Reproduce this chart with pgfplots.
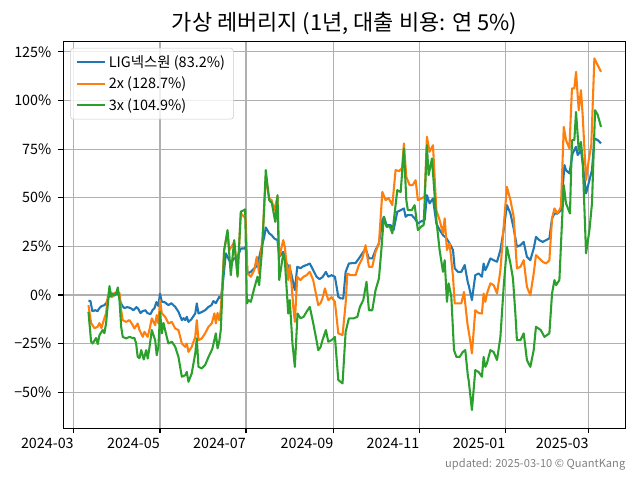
\documentclass[border=0pt]{standalone}
\usepackage{pgfplots}
\pgfplotsset{compat=1.18}
\usepackage{fontspec}
\setmainfont{Noto Sans CJK KR}
\definecolor{C0}{HTML}{1F77B4}
\definecolor{C1}{HTML}{FF7F0E}
\definecolor{C2}{HTML}{2CA02C}
\definecolor{gridc}{HTML}{B0B0B0}
\begin{document}
\begin{tikzpicture}
\useasboundingbox (-45.6pt,-37.2pt) rectangle (415.2pt,308.4pt);
\begin{axis}[
  name=ax,
  at={(0,0)}, anchor=south west,
  scale only axis,
  width=404.8pt, height=278.4pt,
  xmin=-7.5, xmax=391, ymin=-68.5, ymax=130.2,
  xtick={0,61,122,184,245,306,365},
  xticklabels={2024-03,2024-05,2024-07,2024-09,2024-11,2025-01,2025-03},
  ytick={-50,-25,0,25,50,75,100,125},
  yticklabels={−50\%,−25\%,0\%,25\%,50\%,75\%,100\%,125\%},
  /pgf/number format/assume math mode=true,
  xtick pos=bottom, ytick pos=left,
  tick align=outside,
  major tick length=3.5pt,
  tick style={black, line width=0.8pt},
  axis line style={line width=0.8pt},
  grid=major,
  major grid style={gridc, line width=0.8pt},
  ticklabel style={font=\fontsize{10.3}{12}\selectfont, inner sep=0pt},
  xticklabel style={anchor=north east, yshift=-3pt},
  yticklabel style={anchor=east, xshift=-5pt},
  title={가상 레버리지 (1년, 대출 비용: 연 5\%)},
  every axis title/.style={at={(0.5,1)}, anchor=base, yshift=7.9pt, font=\fontsize{15.8}{18}\selectfont, inner sep=0pt},
  legend style={at={(0,1)}, anchor=north west, xshift=5pt, yshift=-4.5pt,
    draw=black!20, fill=white, fill opacity=0.8, text opacity=1,
    rounded corners=2pt, font=\fontsize{10.4}{12}\selectfont,
    row sep=1.5pt, inner xsep=4pt, inner ysep=3pt},
  legend cell align=left,
  legend image code/.code={\draw[#1] (0pt,0pt) -- (20pt,0pt);},
  every axis plot/.append style={line width=1.5pt, line join=round},
]
\addplot[C0] coordinates {(10.3,-2.9)(11.7,-3.1)(13.1,-8.3)(15.2,-7.8)(16.7,-8.3)(18.1,-6.7)(19.5,-5.7)(21.6,-5.2)(23.0,-4.1)(24.5,-1.1)(25.9,0.5)(27.3,-0.6)(28.7,-0.1)(30.1,0.5)(31.6,0.5)(33.0,-3.6)(34.4,-5.7)(35.8,-6.7)(37.9,-6.2)(40.1,-6.7)(42.2,-7.8)(44.3,-6.2)(45.7,-7.2)(47.2,-9.3)(48.6,-8.3)(50.7,-7.8)(52.1,-9.3)(54.3,-9.8)(55.7,-7.8)(57.1,-6.7)(58.5,-3.6)(59.9,-5.7)(61.0,0.7)(62.3,-3.5)(64.2,-3.6)(67.0,-5.2)(69.1,-4.2)(71.8,-6.1)(74.1,-8.6)(76.5,-12.9)(77.7,-11.9)(78.9,-12.9)(80.0,-11.2)(81.2,-13.8)(83.3,-12.4)(86.0,-9.5)(87.1,-4.3)(88.3,-9.5)(90.4,-8.8)(93.0,-7.8)(95.4,-6.1)(97.5,-5.2)(98.9,-3.1)(100.6,-4.2)(103.0,-0.9)(104.1,-1.7)(105.3,4.2)(107.7,21.4)(110.1,17.9)(111.2,16.2)(113.6,18.8)(116.0,19.6)(118.3,23.9)(120.7,23.9)(121.8,24.8)(123.0,11.1)(125.4,11.9)(127.8,13.7)(130.1,15.4)(132.5,23.1)(134.9,29.9)(136.0,34.7)(138.4,31.7)(140.1,30.8)(142.0,29.1)(144.3,28.2)(145.5,19.6)(148.4,22.2)(150.7,16.2)(153.0,13.7)(154.3,10.2)(155.5,6.0)(156.6,2.5)(158.3,14.5)(160.6,13.8)(162.8,14.9)(164.9,15.4)(167.2,16.2)(169.6,12.8)(172.0,9.4)(174.1,8.2)(176.2,9.2)(178.6,11.9)(180.3,9.4)(182.6,10.2)(185.0,9.4)(187.4,-0.9)(189.0,-1.7)(190.9,-1.8)(192.6,11.9)(194.9,16.2)(197.5,16.4)(199.6,16.4)(202.0,18.8)(204.4,21.4)(206.7,23.9)(209.1,18.8)(211.5,18.8)(213.8,23.1)(216.2,26.5)(218.6,38.5)(219.7,40.2)(221.6,35.9)(224.5,35.9)(226.6,33.4)(229.2,42.8)(231.6,43.6)(233.9,44.5)(235.1,40.2)(236.5,41.1)(239.4,41.1)(241.5,39.4)(243.8,36.8)(246.5,38.0)(248.6,38.5)(250.2,51.3)(252.1,47.1)(254.5,49.6)(256.9,36.8)(259.2,33.4)(261.6,30.8)(264.0,29.2)(266.3,26.5)(268.7,23.1)(269.9,13.7)(272.2,11.9)(274.6,11.9)(277.0,15.4)(279.3,6.0)(279.8,5.1)(282.1,-2.6)(284.5,10.2)(286.9,11.1)(289.2,9.4)(290.4,16.2)(291.6,12.8)(292.8,14.5)(295.2,18.8)(297.5,17.9)(299.9,17.1)(302.3,23.1)(304.6,33.4)(306.9,46.2)(309.4,41.9)(311.7,34.2)(314.0,24.8)(316.5,25.6)(318.8,27.3)(321.1,19.6)(323.5,17.9)(325.9,23.9)(327.5,29.9)(329.9,28.2)(332.3,27.3)(334.6,28.2)(337.0,29.1)(338.9,39.4)(340.6,41.9)(342.9,41.9)(345.2,43.6)(347.7,66.8)(348.8,64.2)(351.2,62.5)(353.5,72.8)(355.9,76.2)(357.1,71.9)(359.4,74.5)(360.6,67.8)(363.0,52.2)(365.4,59.0)(367.2,64.2)(368.9,80.5)(371.3,79.6)(373.6,77.9)};
\addlegendentry{LIG넥스원 (83.2\%)}
\addplot[C1] coordinates {(10.3,-5.2)(12.2,-14.4)(14.5,-17.0)(16.7,-16.4)(18.1,-14.4)(19.5,-17.0)(21.6,-11.9)(22.8,-9.3)(24.0,-0.9)(25.2,2.5)(27.5,-0.9)(28.7,1.0)(31.1,1.6)(32.3,1.0)(33.5,-7.8)(34.6,-12.9)(37.0,-13.8)(39.4,-12.9)(41.7,-15.5)(42.9,-17.2)(45.2,-14.6)(46.5,-18.0)(48.8,-21.5)(50.0,-18.9)(52.3,-21.5)(53.5,-18.0)(55.2,-12.0)(57.6,-15.5)(58.7,-10.3)(59.9,-14.6)(61.1,-2.6)(62.3,-9.5)(64.7,-11.2)(67.0,-14.6)(69.4,-13.8)(71.8,-17.2)(74.1,-18.0)(76.5,-24.9)(78.9,-26.6)(80.0,-24.9)(81.2,-29.2)(83.5,-26.6)(86.0,-21.5)(87.1,-12.9)(88.3,-23.2)(90.6,-22.3)(93.0,-19.7)(95.4,-16.3)(97.7,-14.6)(99.6,-9.4)(100.6,-14.6)(101.8,-9.2)(103.0,-12.9)(104.1,-7.8)(106.5,23.1)(108.9,32.5)(110.1,23.1)(112.4,25.6)(113.6,27.3)(116.0,10.2)(118.3,41.9)(120.7,40.2)(121.8,38.8)(123.0,11.1)(125.4,9.4)(127.8,12.8)(129.6,19.6)(131.3,11.1)(133.7,29.9)(136.0,60.7)(138.4,49.6)(140.1,48.8)(142.0,43.6)(144.3,50.5)(145.5,19.6)(148.4,28.2)(149.5,24.8)(151.9,7.7)(153.0,15.4)(154.3,5.1)(155.5,-6.1)(156.6,-13.8)(158.3,9.4)(160.6,7.7)(162.8,9.4)(164.9,10.2)(167.2,11.9)(169.6,7.7)(171.5,0.8)(173.2,-5.2)(174.8,-4.2)(176.2,-1.6)(177.9,3.4)(180.3,-2.6)(182.6,-1.1)(185.0,-3.5)(187.4,-19.7)(190.4,-20.6)(192.6,-4.3)(193.8,11.1)(196.1,10.2)(199.6,10.2)(202.0,15.4)(204.4,18.8)(206.7,25.6)(209.1,14.5)(211.5,14.5)(213.8,22.2)(216.2,26.5)(218.6,53.0)(220.9,48.8)(223.0,49.8)(225.7,46.2)(228.0,64.2)(230.5,63.7)(232.6,65.2)(233.9,77.9)(235.6,60.7)(237.9,56.5)(240.1,56.5)(242.2,59.0)(243.8,48.8)(246.5,49.8)(248.6,50.5)(250.2,81.3)(252.1,73.6)(254.5,77.0)(256.9,43.6)(259.2,38.5)(261.6,31.7)(262.8,39.4)(264.4,23.1)(266.3,26.5)(268.7,9.4)(269.9,-4.3)(272.2,-4.3)(274.6,-4.3)(276.5,1.6)(278.9,-14.6)(281.2,-24.9)(282.1,-30.0)(284.5,-7.8)(286.9,-9.3)(289.2,-9.5)(290.4,0.8)(291.6,-3.5)(292.8,0.8)(295.2,6.0)(297.5,5.1)(299.9,0.8)(302.3,12.8)(304.6,35.0)(306.9,55.6)(309.4,48.8)(311.7,40.2)(314.0,13.7)(316.5,14.5)(318.8,17.9)(321.1,4.2)(323.5,-0.1)(325.9,11.1)(327.5,20.5)(329.9,18.8)(332.3,17.1)(334.6,16.2)(337.0,17.9)(338.9,39.4)(340.6,44.5)(342.9,41.9)(345.2,45.3)(347.2,86.4)(348.8,79.6)(351.2,75.3)(353.0,106.2)(354.7,106.2)(355.9,114.7)(357.8,95.0)(359.4,105.3)(360.6,92.4)(363.0,59.0)(364.9,69.3)(366.7,77.0)(368.9,121.6)(371.3,118.1)(373.6,114.7)};
\addlegendentry{2x (128.7\%)}
\addplot[C2] coordinates {(10.3,-8.6)(12.2,-24.0)(13.3,-24.9)(15.7,-22.1)(16.9,-25.2)(18.1,-20.6)(20.4,-18.0)(21.6,-19.6)(22.8,-14.6)(25.2,4.6)(26.4,-0.9)(27.5,0.8)(28.7,-0.1)(29.9,0.8)(31.1,3.9)(32.3,-2.6)(33.5,-16.3)(34.6,-21.5)(37.0,-22.3)(39.4,-21.5)(41.7,-22.1)(42.9,-22.1)(44.1,-24.9)(45.2,-31.8)(46.5,-32.4)(47.7,-28.3)(49.5,-33.1)(51.2,-28.3)(52.3,-32.6)(53.5,-27.3)(55.2,-18.0)(57.6,-23.2)(58.7,-30.9)(59.9,-26.6)(61.1,-8.6)(62.3,-19.7)(63.5,-14.4)(65.8,-21.5)(67.0,-24.9)(69.4,-24.0)(71.8,-26.6)(74.1,-31.8)(76.5,-42.0)(78.9,-41.2)(80.0,-39.5)(81.2,-44.6)(83.5,-40.3)(86.0,-30.0)(87.1,-22.3)(88.3,-36.9)(90.6,-37.7)(93.0,-36.0)(95.4,-31.8)(97.7,-28.3)(98.2,-27.4)(100.6,-19.7)(101.8,-27.4)(103.0,-24.0)(104.1,-18.0)(106.5,23.1)(108.9,33.4)(111.2,10.2)(113.6,28.2)(116.0,9.4)(118.3,42.8)(121.4,44.0)(122.6,-4.3)(123.8,-2.6)(125.4,-3.5)(127.8,3.4)(130.1,9.4)(131.3,5.1)(133.7,26.5)(136.0,64.2)(138.4,48.8)(140.3,47.2)(142.7,37.6)(144.3,51.3)(145.5,7.7)(148.4,21.4)(149.5,17.9)(151.9,-9.5)(153.0,-2.6)(154.9,-24.9)(156.6,-36.9)(158.5,-9.5)(160.6,-11.9)(162.8,-11.2)(164.9,-8.6)(167.2,-6.1)(169.6,-14.4)(171.5,-21.5)(173.2,-28.3)(174.8,-26.8)(176.2,-23.2)(178.6,-18.0)(180.3,-24.0)(182.6,-23.2)(185.0,-21.5)(187.4,-43.7)(190.4,-45.4)(192.6,-18.9)(194.9,-12.0)(198.2,-12.0)(200.9,-11.2)(202.7,-6.1)(205.1,-2.6)(207.4,6.8)(209.1,-7.8)(211.5,-7.8)(213.8,2.5)(216.2,8.5)(217.9,23.1)(219.7,40.2)(221.6,35.0)(223.8,35.4)(225.7,31.7)(228.0,46.2)(229.2,53.9)(231.6,52.9)(233.9,75.3)(235.6,48.8)(236.7,43.6)(239.4,43.6)(241.5,46.2)(243.8,33.4)(246.5,35.4)(247.9,35.9)(250.2,77.0)(251.4,61.6)(253.8,70.2)(256.9,38.5)(259.2,23.1)(261.6,11.9)(262.8,17.9)(264.4,-3.5)(265.6,6.0)(267.5,-0.9)(269.4,-28.3)(271.1,-31.8)(273.4,-31.8)(275.7,-29.2)(277.4,-28.3)(279.3,-42.0)(279.8,-43.7)(282.1,-59.1)(284.5,-38.6)(286.9,-39.6)(289.2,-42.0)(290.4,-31.8)(291.6,-36.9)(292.8,-35.0)(295.2,-28.3)(297.5,-29.3)(299.9,-33.4)(302.3,-21.5)(304.6,4.2)(306.9,24.8)(309.4,16.2)(311.2,8.5)(312.9,-9.5)(314.0,-23.2)(316.5,-23.2)(318.8,-19.7)(321.1,-33.5)(323.5,-36.9)(325.9,-28.3)(327.5,-16.3)(330.9,-18.0)(333.5,-21.5)(337.0,-19.7)(338.9,0.8)(340.6,7.7)(341.8,5.1)(344.1,7.7)(345.9,36.8)(347.2,56.5)(348.8,47.1)(351.6,41.9)(353.0,79.6)(354.7,79.6)(355.9,94.1)(357.8,74.5)(359.4,78.7)(360.6,69.3)(363.0,21.4)(365.4,33.4)(367.2,47.1)(369.4,95.0)(371.3,92.5)(373.6,86.4)};
\addlegendentry{3x (104.9\%)}
\end{axis}
\node[anchor=base east, inner sep=0pt, text=black!50, font=\fontsize{8}{9}\selectfont] at ([yshift=-28.5pt]ax.south east) {updated: 2025-03-10 © QuantKang};
\end{tikzpicture}
\end{document}
